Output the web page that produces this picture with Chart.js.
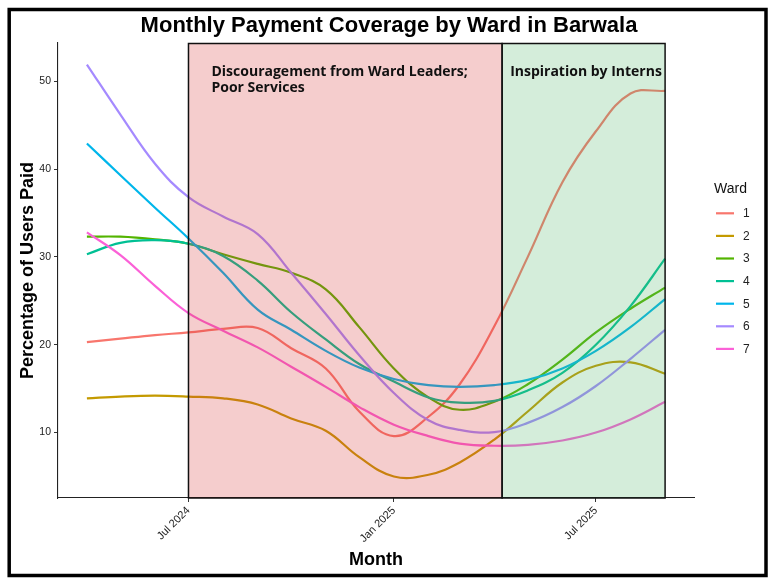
<!DOCTYPE html>
<html>
<head>
<meta charset="utf-8">
<title>Monthly Payment Coverage by Ward in Barwala</title>
<script src="https://cdn.jsdelivr.net/npm/chart.js@4.4.1/dist/chart.umd.min.js"></script>
<style>
  html, body { margin: 0; padding: 0; background: #fff; }
  #wrap { width: 775px; height: 585px; }
</style>
</head>
<body>
<div id="wrap"><canvas id="chart" width="775" height="585"></canvas></div>
<script>
const months = [
    '2024-04-01', '2024-05-01', '2024-06-01', '2024-07-01', '2024-08-01', '2024-09-01',
    '2024-10-01', '2024-11-01', '2024-12-01', '2025-01-01', '2025-02-01', '2025-03-01',
    '2025-04-01', '2025-05-01', '2025-06-01', '2025-07-01', '2025-08-01', '2025-09-01'
];
const wards = ['1', '2', '3', '4', '5', '6', '7'];
const wardColors = ['#F8766D', '#C49A00', '#53B400', '#00C094', '#00B6EB', '#A58AFF', '#FB61D7'];

const ward1 = [20.3, 20.7, 21.1, 21.4, 21.8, 21.9, 19.6, 17.3, 12.4, 9.6, 11.8, 15.5, 22.1, 30.0, 38.5, 44.3, 48.6, 48.9];
const ward2 = [13.9, 14.1, 14.2, 14.1, 13.9, 13.2, 11.6, 10.2, 7.2, 5.0, 5.2, 6.6, 9.2, 12.4, 15.7, 17.6, 18.0, 16.7];
const ward3 = [32.3, 32.3, 32.0, 31.5, 30.3, 29.2, 28.2, 26.3, 22.0, 17.3, 14.0, 12.6, 13.5, 15.5, 18.3, 21.4, 24.1, 26.5];
const ward4 = [30.3, 31.6, 31.9, 31.5, 30.1, 27.3, 23.7, 20.6, 17.8, 15.8, 14.0, 13.4, 13.6, 14.8, 16.8, 20.0, 24.4, 29.8];
const ward5 = [42.9, 39.3, 35.6, 32.1, 28.2, 24.0, 21.7, 19.3, 17.4, 16.1, 15.4, 15.2, 15.4, 16.0, 17.3, 19.3, 22.0, 25.2];
const ward6 = [51.9, 46.2, 40.6, 36.8, 34.6, 32.6, 28.2, 23.5, 18.8, 14.5, 11.4, 10.3, 10.05, 11.1, 12.9, 15.3, 18.4, 21.7];
const ward7 = [32.8, 30.2, 26.7, 23.6, 21.6, 19.7, 17.5, 15.2, 12.9, 10.9, 9.6, 8.75, 8.5, 8.6, 9.1, 10.0, 11.5, 13.5];
const wardValues = [ward1, ward2, ward3, ward4, ward5, ward6, ward7];

const tickDates = ['2024-07-01', '2025-01-01', '2025-07-01'];
const tickLabels = ['Jul 2024', 'Jan 2025', 'Jul 2025'];
const yTicks = [10, 20, 30, 40, 50];

const phaseLabels = [['Discouragement from Ward Leaders;', 'Poor Services'], ['Inspiration by Interns']];
const phaseStart = ['2024-07-01', '2025-04-08'];
const phaseEnd = ['2025-04-08', '2025-09-01'];
const phaseFill = ['rgba(215, 55, 55, 0.25)', 'rgba(83, 183, 107, 0.25)'];

const toDay = s => Date.parse(s) / 86400000;
const firstDay = toDay(months[0]);
const lastDay = toDay(months[months.length - 1]);
const xPad = (lastDay - firstDay) * 0.05;

// background, shaded phases, titles, legend and outer frame
const decor = {
    id: 'decor',
    beforeDraw(chart) {
        const ctx = chart.ctx;
        ctx.save();
        ctx.fillStyle = '#fff';
        ctx.fillRect(0, 0, chart.width, chart.height);
        ctx.restore();
    },
    afterDatasetsDraw(chart) {
        const { ctx, chartArea: a, scales: { x } } = chart;
        ctx.save();
        phaseLabels.forEach((lines, i) => {
            const x0 = x.getPixelForValue(toDay(phaseStart[i]));
            const x1 = x.getPixelForValue(toDay(phaseEnd[i]));
            ctx.fillStyle = phaseFill[i];
            ctx.fillRect(x0, a.top, x1 - x0, a.bottom - a.top);
            ctx.strokeStyle = '#111';
            ctx.lineWidth = 1.5;
            ctx.strokeRect(x0, a.top + 0.5, x1 - x0, a.bottom - a.top - 0.5);
            ctx.fillStyle = '#111';
            ctx.font = 'bold 14px "Open Sans"';
            ctx.textAlign = 'left';
            ctx.textBaseline = 'alphabetic';
            lines.forEach((t, j) => ctx.fillText(t, x0 + (i === 0 ? 23 : 8), a.top + 33 + j * 16));
        });
        ctx.restore();
    },
    afterDraw(chart) {
        const { ctx, chartArea: a } = chart;
        ctx.save();
        ctx.fillStyle = '#000';
        ctx.textAlign = 'center';
        ctx.textBaseline = 'alphabetic';
        ctx.font = 'bold 22px "Liberation Sans"';
        ctx.fillText('Monthly Payment Coverage by Ward in Barwala', 389, 32);

        ctx.font = 'bold 18px "Liberation Sans"';
        ctx.fillText('Month', (a.left + a.right) / 2, 565);
        ctx.save();
        ctx.translate(33, (a.top + a.bottom) / 2);
        ctx.rotate(-Math.PI / 2);
        ctx.fillText('Percentage of Users Paid', 0, 0);
        ctx.restore();

        // legend
        ctx.textAlign = 'left';
        ctx.textBaseline = 'middle';
        ctx.font = '14px "Liberation Sans"';
        ctx.fillStyle = '#111';
        ctx.fillText('Ward', 714, 189);
        ctx.font = '12px "Liberation Sans"';
        wards.forEach((w, i) => {
            const y = 213.3 + i * 22.6;
            ctx.strokeStyle = wardColors[i];
            ctx.lineWidth = 2.2;
            ctx.beginPath();
            ctx.moveTo(716, y);
            ctx.lineTo(734, y);
            ctx.stroke();
            ctx.fillStyle = '#222';
            ctx.fillText(w, 743, y + 0.5);
        });

        // outer frame
        ctx.strokeStyle = '#000';
        ctx.lineWidth = 3.5;
        ctx.strokeRect(9.2, 9.5, 756.8, 566);
        ctx.restore();
    }
};

new Chart(document.getElementById('chart'), {
    type: 'line',
    data: {
        datasets: wards.map((w, i) => ({
            label: w,
            data: months.map((m, j) => ({ x: toDay(m), y: wardValues[i][j] })),
            borderColor: wardColors[i],
            backgroundColor: wardColors[i],
            borderWidth: 2.2,
            pointRadius: 0,
            tension: 0.4,
            fill: false,
            order: wards.length - i
        }))
    },
    options: {
        responsive: false,
        animation: false,
        layout: { padding: { left: 0, right: 81, top: 43, bottom: 0 } },
        plugins: {
            legend: { display: false },
            title: { display: false },
            tooltip: { enabled: false }
        },
        scales: {
            x: {
                type: 'linear',
                min: firstDay - xPad,
                max: lastDay + xPad,
                afterFit: s => { s.height = 87; },
                afterBuildTicks: s => { s.ticks = tickDates.map(d => ({ value: toDay(d) })); },
                grid: { drawOnChartArea: false, drawTicks: true, tickLength: 4, color: '#333' },
                border: { display: true, color: '#222', width: 1.1 },
                ticks: {
                    autoSkip: false,
                    minRotation: 45,
                    maxRotation: 45,
                    padding: 2,
                    color: '#222',
                    font: { family: 'Liberation Sans', size: 11 },
                    callback: (v, i) => tickLabels[i]
                }
            },
            y: {
                type: 'linear',
                min: 2.55,
                max: 54.35,
                afterFit: s => { s.width = 58; },
                afterBuildTicks: s => { s.ticks = yTicks.map(v => ({ value: v })); },
                grid: { drawOnChartArea: false, drawTicks: true, tickLength: 4, color: '#333' },
                border: { display: true, color: '#222', width: 1.1 },
                ticks: {
                    padding: 3,
                    color: '#222',
                    font: { family: 'Liberation Sans', size: 10.5 },
                    callback: v => String(v)
                }
            }
        }
    },
    plugins: [decor]
});
</script>
</body>
</html>
